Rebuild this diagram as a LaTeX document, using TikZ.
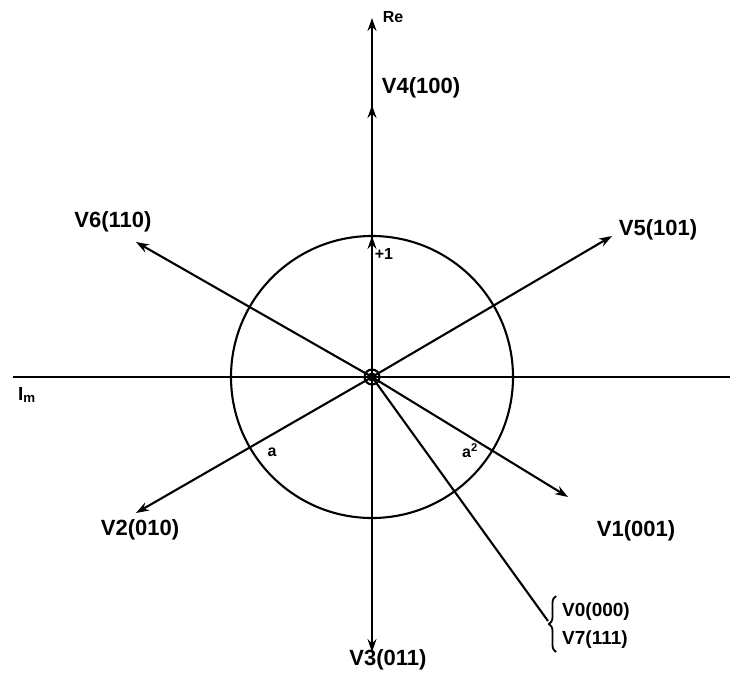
\documentclass[tikz,border=0pt]{standalone}
\usepackage{fontspec}
\setmainfont{Liberation Sans}
\usetikzlibrary{arrows.meta,decorations.pathreplacing}
\begin{document}
\begin{tikzpicture}[x=1pt,y=-1pt,
  ln/.style={line width=2.1pt},
  vec/.style={ln,-{Stealth[length=13pt,width=9pt]}},
  lab/.style={font=\fontsize{22}{24}\selectfont\bfseries,inner sep=0pt},
  sm/.style={font=\fontsize{16}{18}\selectfont\bfseries,inner sep=0pt}]
\useasboundingbox (0,0) rectangle (730,684);
\coordinate (O) at (372,377);
\coordinate (top) at (372,18);
\coordinate (bot) at (372,652);
\coordinate (v4) at (372,105);
\coordinate (p1) at (372,236);
\coordinate (imL) at (13,377);
\coordinate (imR) at (730,377);
\coordinate (v5) at (612,236);
\coordinate (v6) at (136,242);
\coordinate (v2) at (136,513);
\coordinate (v1) at (568,497);
\coordinate (br) at (548,621);
% circle
\draw[ln] (O) circle (141);
\draw[ln,fill=white] (O) circle (7.5);
% axes
\draw[ln] (imL) -- (imR);
\draw[vec] (O) -- (top);
\draw[vec] (O) -- (v4);
\draw[vec] (O) -- (p1);
\draw[vec] (O) -- (bot);
% vectors
\draw[vec] (O) -- (v5);
\draw[vec] (O) -- (v6);
\draw[vec] (O) -- (v2);
\draw[vec] (O) -- (v1);
\draw[ln] (O) -- (br);
\draw[ln] (O) circle (3.5);
% brace
\draw[line width=1.8pt,decorate,decoration={brace,amplitude=7pt}] (556,652) -- (556,596);
% labels
\node[sm] (re) at (393,17) {Re};
\node[lab] (l4) at (421,88) {V4(100)};
\node[sm] (one) at (384,254) {+1};
\node[lab] (l6) at (113,222) {V6(110)};
\node[lab] (l5) at (658,230) {V5(101)};
\node[font=\fontsize{19}{20}\selectfont\bfseries,inner sep=0pt] (im) at (27,395) {I\textsubscript{m}};
\node[sm] (la) at (272,452) {a};
\node[sm] (la2) at (470,451) {a\textsuperscript{2}};
\node[lab] (l2) at (140,530) {V2(010)};
\node[lab] (l1) at (636,531) {V1(001)};
\node[font=\fontsize{19}{20}\selectfont\bfseries,inner sep=0pt,anchor=west] (l0) at (562,612) {V0(000)};
\node[font=\fontsize{19}{20}\selectfont\bfseries,inner sep=0pt,anchor=west] (l7) at (562,640) {V7(111)};
\node[lab] (l3) at (388,660) {V3(011)};
\end{tikzpicture}
\end{document}
